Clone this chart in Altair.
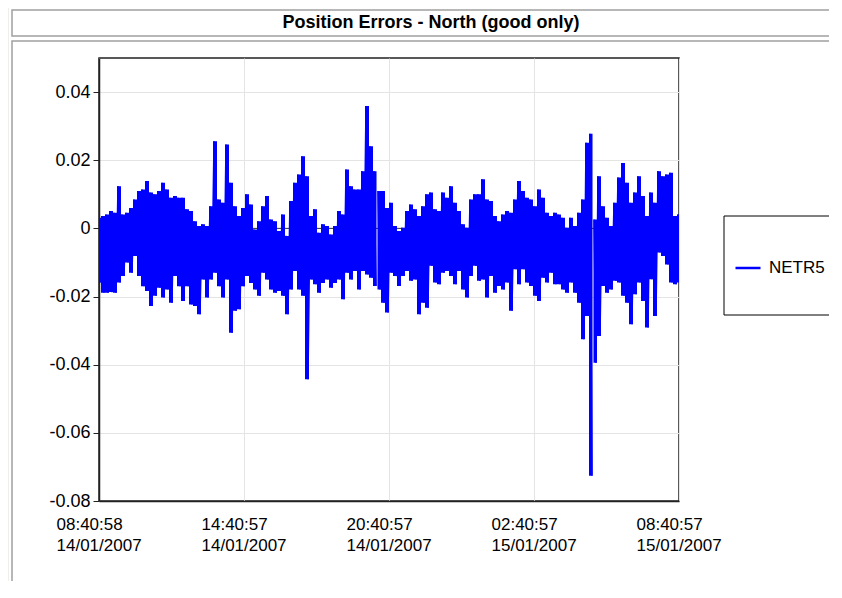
import altair as alt
import pandas as pd

# ---------------- data ----------------
series_name = "NETR5"
title_text = "Position Errors - North (good only)"
t_start = "2007-01-14 08:40:58"
t_end = "2007-01-15 08:40:57"
x_ticks = ["2007-01-14 08:40:58", "2007-01-14 14:40:57", "2007-01-14 20:40:57",
           "2007-01-15 02:40:57", "2007-01-15 08:40:57"]
y_ticks = [-0.08, -0.06, -0.04, -0.02, 0, 0.02, 0.04]
y_domain = [-0.08, 0.05]

# upper / lower excursions of the north error (m)
hi = [0.0031, 0.0036, 0.0041, 0.0051, 0.0046, 0.0124, 0.0041, 0.0046, 0.0060, 0.0085,
      0.0110, 0.0114, 0.0139, 0.0105, 0.0100, 0.0110, 0.0134, 0.0114, 0.0090, 0.0095,
      0.0090, 0.0090, 0.0056, 0.0051, 0.0021, 0.0007, 0.0012, 0.0007, 0.0065, 0.0256,
      0.0085, 0.0075, 0.0246, 0.0134, 0.0065, 0.0036, 0.0060, 0.0100, 0.0070, -0.0003,
      0.0021, 0.0065, 0.0095, 0.0026, 0.0021, -0.0008, 0.0041, -0.0022, 0.0080, 0.0134,
      0.0158, 0.0212, 0.0153, 0.0036, 0.0056, -0.0013, 0.0012, 0.0007, -0.0018, 0.0007,
      0.0051, 0.0041, 0.0173, 0.0124, 0.0114, 0.0114, 0.0168, 0.0359, 0.0241, 0.0168,
      0.0110, 0.0110, 0.0060, 0.0075, 0.0007, -0.0008, 0.0002, 0.0051, 0.0070, 0.0056,
      0.0036, 0.0065, 0.0100, 0.0105, 0.0056, 0.0051, 0.0105, 0.0090, 0.0124, 0.0075,
      0.0051, 0.0012, 0.0002, 0.0085, 0.0100, 0.0100, 0.0144, 0.0085, 0.0080, 0.0036,
      0.0021, 0.0041, 0.0051, 0.0046, 0.0085, 0.0139, 0.0110, 0.0090, 0.0085, 0.0065,
      0.0114, 0.0090, 0.0046, 0.0036, 0.0046, 0.0041, 0.0031, 0.0002, 0.0031, 0.0007,
      0.0046, 0.0085, 0.0251, 0.0278, 0.0026, 0.0153, 0.0065, 0.0031, 0.0007, 0.0075,
      0.0149, 0.0192, 0.0134, 0.0075, 0.0105, 0.0153, 0.0095, 0.0036, 0.0105, 0.0075,
      0.0168, 0.0153, 0.0158, 0.0163, 0.0036, 0.0041]
lo = [-0.0159, -0.0189, -0.0189, -0.0187, -0.0189, -0.0159, -0.0140, -0.0100, -0.0130, -0.0081,
      -0.0140, -0.0170, -0.0184, -0.0228, -0.0198, -0.0174, -0.0203, -0.0179, -0.0218, -0.0140,
      -0.0170, -0.0213, -0.0170, -0.0223, -0.0228, -0.0252, -0.0150, -0.0203, -0.0150, -0.0130,
      -0.0170, -0.0203, -0.0150, -0.0306, -0.0242, -0.0237, -0.0170, -0.0140, -0.0160, -0.0179,
      -0.0198, -0.0130, -0.0150, -0.0179, -0.0189, -0.0184, -0.0198, -0.0252, -0.0179, -0.0125,
      -0.0179, -0.0198, -0.0443, -0.0150, -0.0164, -0.0189, -0.0160, -0.0150, -0.0174, -0.0160,
      -0.0150, -0.0208, -0.0130, -0.0150, -0.0125, -0.0179, -0.0125, -0.0135, -0.0145, -0.0169,
      -0.0179, -0.0218, -0.0247, -0.0130, -0.0140, -0.0169, -0.0140, -0.0125, -0.0154, -0.0150,
      -0.0252, -0.0218, -0.0233, -0.0110, -0.0159, -0.0164, -0.0130, -0.0125, -0.0140, -0.0164,
      -0.0125, -0.0179, -0.0203, -0.0140, -0.0110, -0.0154, -0.0150, -0.0203, -0.0140, -0.0189,
      -0.0169, -0.0179, -0.0159, -0.0242, -0.0120, -0.0164, -0.0120, -0.0159, -0.0169, -0.0198,
      -0.0213, -0.0145, -0.0159, -0.0130, -0.0164, -0.0164, -0.0179, -0.0189, -0.0159, -0.0189,
      -0.0218, -0.0325, -0.0257, -0.0726, -0.0394, -0.0316, -0.0169, -0.0189, -0.0179, -0.0154,
      -0.0159, -0.0198, -0.0218, -0.0281, -0.0193, -0.0159, -0.0213, -0.0291, -0.0149, -0.0257,
      -0.0071, -0.0081, -0.0106, -0.0159, -0.0164, -0.0159]
gaps_after = [69, 123]   # data gaps (line breaks)

# ---------------- tables ----------------
times = pd.date_range(t_start, t_end, periods=len(hi))
step = times[1] - times[0]
fmt = "%Y-%m-%dT%H:%M:%S"


def ts(t):
    return t.round("s").strftime(fmt)


gap_next = {k + 1 for k in gaps_after}
line_rows, band_rows = [], []
for k, (t, h, l) in enumerate(zip(times, hi, lo)):
    if k in gap_next:   # column edge right after a gap
        band_rows.append({"time": ts(t - step * 0.38), "hi": h, "lo": l})
    line_rows.append({"time": ts(t - step / 4), "value": h, "series": series_name})
    line_rows.append({"time": ts(t + step / 4), "value": l, "series": series_name})
    band_rows.append({"time": ts(t), "hi": h, "lo": l})
    if k in gaps_after:  # column edge right before a gap, then the break
        band_rows.append({"time": ts(t + step * 0.38), "hi": h, "lo": l})
        line_rows.append({"time": ts(t + step * 0.5), "value": None, "series": series_name})
        band_rows.append({"time": ts(t + step * 0.5), "hi": None, "lo": None})
df_line = pd.DataFrame(line_rows)
df_band = pd.DataFrame(band_rows)


def dt(s):
    p = pd.Timestamp(s)
    return alt.DateTime(year=p.year, month=p.month, date=p.day,
                        hours=p.hour, minutes=p.minute, seconds=p.second)


FONT = "Liberation Sans"
BLUE = "#0000ff"
one = pd.DataFrame({"d": [0]})

y_scale = alt.Scale(domain=y_domain, nice=False, zero=False)
y_axis = alt.Axis(values=y_ticks, title=None, grid=True, tickSize=6,
                  labelPadding=3, labelFontSize=18,
                  labelExpr="datum.value < 0 ? '-' + format(-datum.value, '.2~f') : format(datum.value, '.2~f')")
x_enc = alt.X("time:T",
              scale=alt.Scale(domain=[dt(t_start), dt(t_end)], nice=False),
              axis=alt.Axis(values=[dt(s) for s in x_ticks], title=None, grid=True,
                            tickSize=0, labelPadding=15, labelFontSize=17,
                            labelAlign="left", labelBaseline="top", labelOffset=-43,
                            labelLineHeight=21, labelFlush=False, labelOverlap=False,
                            labelExpr="[timeFormat(datum.value, '%H:%M:%S'), timeFormat(datum.value, '%d/%m/%Y')]"))

outer_box = alt.Chart(one).mark_rect(filled=False, stroke="#ece9e4", strokeWidth=1.5).encode(
    x=alt.value(-91), x2=alt.value(760), y=alt.value(-51), y2=alt.value(560))
title_box = alt.Chart(one).mark_rect(filled=False, stroke="#a0a0a0", strokeWidth=1.5).encode(
    x=alt.value(-87), x2=alt.value(760), y=alt.value(-48), y2=alt.value(-22))
panel_box = alt.Chart(one).mark_rect(filled=False, stroke="#a0a0a0", strokeWidth=1.5).encode(
    x=alt.value(-87), x2=alt.value(760), y=alt.value(-17), y2=alt.value(560))
legend_box = alt.Chart(one).mark_rect(fill="white", stroke="black", strokeWidth=1).encode(
    x=alt.value(625), x2=alt.value(739), y=alt.value(158), y2=alt.value(257))
title = alt.Chart(one).mark_text(text=title_text, font=FONT, fontSize=18, fontWeight="bold",
                                 align="center", baseline="alphabetic", color="black").encode(
    x=alt.value(332), y=alt.value(-30))

zero = alt.Chart(pd.DataFrame({"value": [0]})).mark_rule(color="#333333", strokeWidth=1).encode(
    y=alt.Y("value:Q", scale=y_scale, axis=y_axis))

band = alt.Chart(df_band).mark_area(interpolate="step", color=BLUE, opacity=1, clip=True).encode(
    x=x_enc,
    y=alt.Y("hi:Q", scale=y_scale, axis=y_axis),
    y2="lo:Q",
)

line = alt.Chart(df_line).mark_line(strokeWidth=1.5, clip=True).encode(
    x=x_enc,
    y=alt.Y("value:Q", scale=y_scale, axis=y_axis),
    color=alt.Color("series:N", scale=alt.Scale(range=[BLUE]),
                    legend=alt.Legend(orient="none", legendX=635, legendY=196, title=None,
                                      symbolType="stroke", symbolSize=625,
                                      symbolStrokeWidth=2.5, labelFontSize=17,
                                      labelFont=FONT, labelColor="black",
                                      labelOffset=7, padding=0)),
)

chart = alt.layer(outer_box, title_box, panel_box, legend_box, title, zero, band, line).properties(
    width=580, height=443,
    autosize=alt.AutoSizeParams(type="none"),
    padding={"left": 91, "top": 50, "right": 150, "bottom": 80},
    background="white",
).configure_view(
    stroke="#222222", strokeWidth=1.5
).configure_axis(
    labelFont=FONT, labelColor="black", domainColor="#222222", domainWidth=1.5,
    gridColor="#e4e4e4", gridWidth=1, tickColor="#222222"
)

chart.save("out.html", embed_options={"renderer": "svg", "actions": False})
